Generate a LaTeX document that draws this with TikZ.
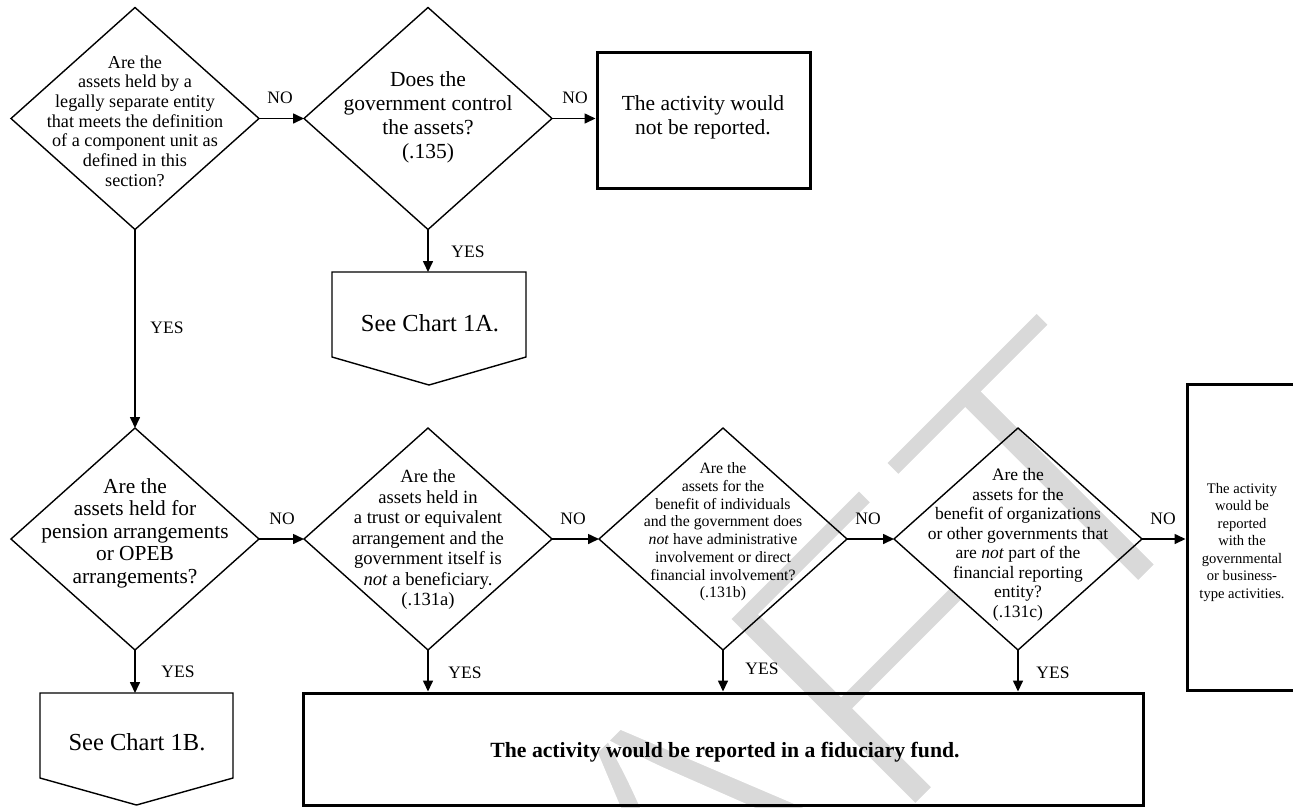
\documentclass[tikz,border=0pt]{standalone}
\usepackage{fontspec}
\setmainfont{Liberation Serif}
\newfontfamily\wmfont{Liberation Sans}
\usetikzlibrary{shapes.geometric,arrows.meta,calc}
\begin{document}
\begin{tikzpicture}[x=1pt,y=-1pt,
  dia/.style={draw, shape=diamond, minimum width=248pt, minimum height=222pt, inner sep=0pt, outer sep=0pt, line width=1.4pt},
  txt/.style={align=center, inner sep=0pt},
  box/.style={draw, line width=3pt, inner sep=0pt},
  pent/.style={draw, line width=1.4pt},
  holder/.style={inner sep=0pt, outer sep=0pt},
  arr/.style={line width=1.6pt, -{Triangle[length=11pt,width=10pt]}},
  lbl/.style={inner sep=0pt, font=\fontsize{17.5}{20}\selectfont},
  wm/.style={inner sep=0pt, text=black!15, rotate=45, anchor=base east, font=\wmfont\fontsize{400}{400}\selectfont}
]
\useasboundingbox (0,0) rectangle (1293,807);
% watermark (thinned with a white outline stroke)
\node[wm] (wm) at (1238,491) {\special{pdf:literal direct 2 Tr 1 1 1 RG 15 w}DRAFT\special{pdf:literal direct 0 Tr}};

% top row
\node[dia] (d1) at (135,118.5) {};
\node[txt, font=\fontsize{18.2}{19.7}\selectfont] (d1t) at (135,121) {Are the\\assets held by a\\legally separate entity\\that meets the definition\\of a component unit as\\defined in this\\section?};
\node[dia] (d2) at (428,118.5) {};
\node[txt, font=\fontsize{21.5}{24}\selectfont] (d2t) at (428,117) {Does the\\government control\\the assets?\\(.135)};
\node[box, minimum width=213pt, minimum height=136pt] (nr) at (703.5,120) {};
\node[txt, font=\fontsize{21.5}{24}\selectfont] (nrt) at (703,117) {The activity would\\not be reported.};

\node[holder, minimum width=194pt, minimum height=113pt] (p1a) at (429,328.5) {};
\draw[pent] (p1a.north west) -- (p1a.north east) -- ($(p1a.south east)+(0,-28)$) -- (p1a.south) -- ($(p1a.south west)+(0,-28)$) -- cycle;
\node[txt, font=\fontsize{24.5}{28}\selectfont] (p1at) at (430,323) {See Chart 1A.};

% second row
\node[dia] (d3) at (135,539) {};
\node[txt, font=\fontsize{21.4}{22.5}\selectfont] (d3t) at (135,533) {Are the\\assets held for\\pension arrangements\\or OPEB\\arrangements?};
\node[dia] (d4) at (428,539) {};
\node[txt, font=\fontsize{18.6}{20.5}\selectfont] (d4t) at (428,540) {Are the\\assets held in\\a trust or equivalent\\arrangement and the\\government itself is\\\textit{not} a beneficiary.\\(.131a)};
\node[dia] (d5) at (723,539) {};
\node[txt, font=\fontsize{15.8}{17.7}\selectfont] (d5t) at (723,532) {Are the\\assets for the\\benefit of individuals\\and the government does\\\textit{not} have administrative\\involvement or direct\\financial involvement?\\(.131b)};
\node[dia] (d6) at (1018,539) {};
\node[txt, font=\fontsize{17.5}{19.5}\selectfont] (d6t) at (1018,545) {Are the\\assets for the\\benefit of organizations\\or other governments that\\are \textit{not} part of the\\financial reporting\\entity?\\(.131c)};

\node[box, minimum width=118pt, minimum height=306pt] (rb) at (1246,537) {};
\node[txt, font=\fontsize{14.6}{17.5}\selectfont] (rbt) at (1242,542) {The activity\\would be\\reported\\with the\\governmental\\or business-\\type activities.};

\node[box, minimum width=840pt, minimum height=112pt] (bb) at (723,749) {};
\node[txt, font=\bfseries\fontsize{21.7}{24}\selectfont] (bbt) at (725,752) {The activity would be reported in a fiduciary fund.};

\node[holder, minimum width=193pt, minimum height=112pt] (p1b) at (136.5,749) {};
\draw[pent] (p1b.north west) -- (p1b.north east) -- ($(p1b.south east)+(0,-27)$) -- (p1b.south) -- ($(p1b.south west)+(0,-27)$) -- cycle;
\node[txt, font=\fontsize{24.5}{28}\selectfont] (p1bt) at (137,742) {See Chart 1B.};

% connectors
\draw[arr] (d1.east) -- (d2.west);
\draw[arr] (d2.east) -- (d2.east -| nr.west);
\draw[arr] (d2.south) -- (d2.south |- p1a.north);
\draw[arr] (d1.south) -- (d3.north);
\draw[arr] (d3.south) -- (d3.south |- p1b.north);
\draw[arr] (d3.east) -- (d4.west);
\draw[arr] (d4.east) -- (d5.west);
\draw[arr] (d5.east) -- (d6.west);
\draw[arr] (d6.east) -- (d6.east -| rb.west);
\draw[arr] (d4.south) -- (d4.south |- bb.north);
\draw[arr] (d5.south) -- (d5.south |- bb.north);
\draw[arr] (d6.south) -- (d6.south |- bb.north);

% labels
\node[lbl] (l1) at (280,98) {NO};
\node[lbl] (l2) at (575,98) {NO};
\node[lbl] (l3) at (468,252) {YES};
\node[lbl] (l4) at (167,328) {YES};
\node[lbl] (l5) at (178,672) {YES};
\node[lbl] (l6) at (282,519) {NO};
\node[lbl] (l7) at (573,519) {NO};
\node[lbl] (l8) at (868,519) {NO};
\node[lbl] (l9) at (1163,519) {NO};
\node[lbl] (l10) at (465,673) {YES};
\node[lbl] (l11) at (762,669) {YES};
\node[lbl] (l12) at (1053,673) {YES};
\end{tikzpicture}
\end{document}
